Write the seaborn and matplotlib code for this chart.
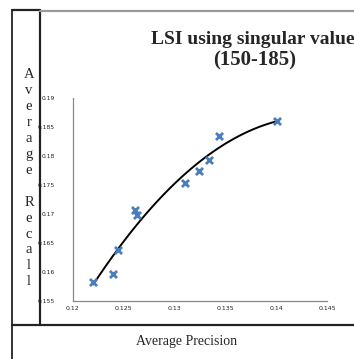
import matplotlib
matplotlib.use("Agg")
import matplotlib.pyplot as plt
from matplotlib.lines import Line2D
import seaborn as sns

# ---- data ----
precision = [0.1220, 0.1239, 0.1244, 0.1261, 0.1263, 0.1310, 0.1324, 0.1334, 0.1344, 0.1401]
recall = [0.1582, 0.1597, 0.1638, 0.1707, 0.1698, 0.1754, 0.1775, 0.1793, 0.1834, 0.1861]
x_ticks = [0.12, 0.125, 0.13, 0.135, 0.14, 0.145]
x_tick_labels = ["0.12", "0.125", "0.13", "0.135", "0.14", "0.145"]
y_ticks = [0.155, 0.16, 0.165, 0.17, 0.175, 0.18, 0.185, 0.19]
y_tick_labels = ["0.155", "0.16", "0.165", "0.17", "0.175", "0.18", "0.185", "0.19"]
title_line1 = "LSI using singular values"
title_line2 = "(150-185)"
x_label = "Average Precision"
y_label = "Average Recall"

sns.set_style("white")
plt.rcParams["font.family"] = ["Liberation Serif", "DejaVu Serif"]

W, H = 354, 359
fig = plt.figure(figsize=(W / 100, H / 100), dpi=100)


def fx(x):
    return x / W


def fy(y):
    return 1 - y / H


ax = fig.add_axes([fx(73), fy(301), 254 / W, 203 / H])

sns.regplot(x=precision, y=recall, order=2, ci=None, scatter=False, truncate=True,
            line_kws=dict(color="black", lw=1.4), ax=ax)
sns.scatterplot(x=precision, y=recall, marker="x", s=26, color="#4A7EBB",
                linewidth=2.0, ax=ax, zorder=3)

ax.set_xlim(0.12, 0.145)
ax.set_ylim(0.155, 0.19)
ax.set_xticks(x_ticks)
ax.set_xticklabels(x_tick_labels, fontsize=4.5, family="DejaVu Sans", color="#222222")
ax.set_yticks(y_ticks)
ax.set_yticklabels(y_tick_labels, fontsize=4.3, family="DejaVu Sans", color="#222222")
ax.tick_params(axis="x", direction="out", length=2, width=0.8, color="#888888", pad=1.5)
ax.tick_params(axis="y", direction="out", length=2, width=0.8, color="#888888", pad=11)
ax.set_xlabel("")
ax.set_ylabel("")
for side in ["top", "right"]:
    ax.spines[side].set_visible(False)
for side in ["left", "bottom"]:
    ax.spines[side].set_color("#888888")
    ax.spines[side].set_linewidth(0.9)

# title
fig.text(fx(257), fy(40), title_line1, ha="center", va="center",
         fontsize=14, fontweight="bold")
fig.text(fx(255), fy(60), title_line2, ha="center", va="center",
         fontsize=15, fontweight="bold")

# x label in bottom row
fig.text(fx(187), fy(342), x_label, ha="center", va="center", fontsize=10)

# vertical stacked letters
for i, ch in enumerate(y_label):
    if ch.strip():
        fig.text(fx(29), fy(75 + i * 15.9), ch, ha="center", va="center", fontsize=10.5)

# table borders
fig.add_artist(Line2D([fx(12), fx(12)], [fy(10), fy(359)], color="#333333", lw=1.4))
fig.add_artist(Line2D([fx(40), fx(40)], [fy(10), fy(325)], color="#222222", lw=1.6))
fig.add_artist(Line2D([fx(12), fx(354)], [fy(325), fy(325)], color="#222222", lw=1.6))
fig.add_artist(Line2D([fx(12), fx(40)], [fy(10), fy(10)], color="#222222", lw=1.6))
fig.add_artist(Line2D([fx(40), fx(354)], [fy(10.5), fy(10.5)], color="#9a9a9a", lw=1.6))

fig.savefig("out.png", dpi=100)
